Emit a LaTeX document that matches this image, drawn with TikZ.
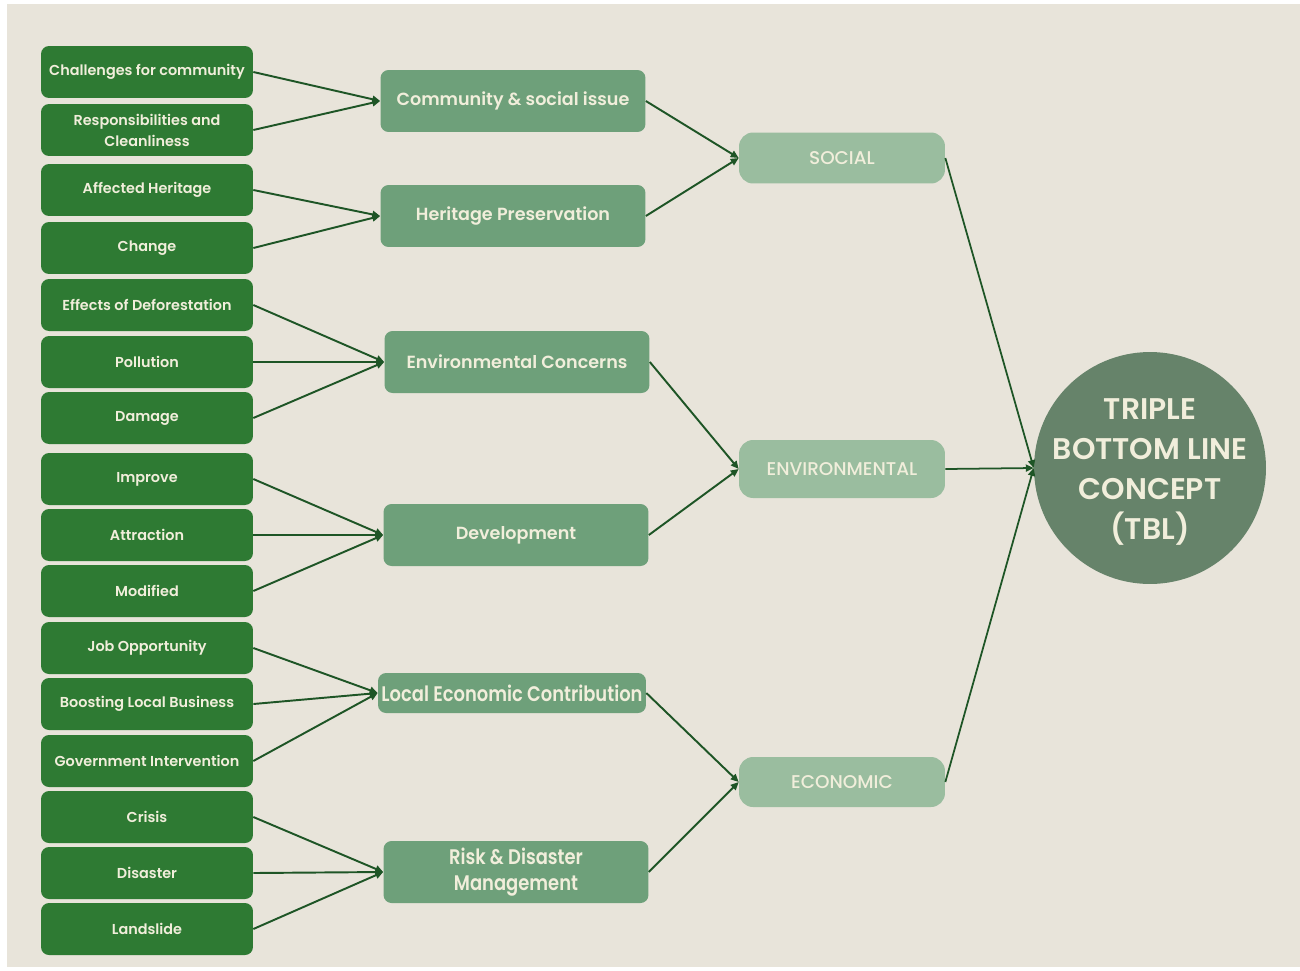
\documentclass[tikz,border=0pt]{standalone}
\usepackage{fontspec}
\usepackage{xcolor}
\usepackage{tikz}
\usetikzlibrary{arrows.meta,positioning}
\setmainfont{Poppins}
\newfontfamily\semifont{Poppins SemiBold}
\newfontfamily\narrowfont{Poppins SemiBold}[FakeStretch=0.85]
\newfontfamily\medfont{Poppins Medium}
\definecolor{bgbeige}{HTML}{E8E4DA}
\definecolor{leafgreen}{HTML}{2E7A33}
\definecolor{midgreen}{HTML}{6EA07A}
\definecolor{pillargreen}{HTML}{9ABD9F}
\definecolor{coregreen}{HTML}{66836A}
\definecolor{linkgreen}{HTML}{1E5526}
\definecolor{cream}{HTML}{F1EEDB}

\begin{document}
\begin{tikzpicture}[x=0.02cm,y=-0.02cm,
    leaf/.style={fill=leafgreen,rounded corners=0.16cm,minimum width=4.24cm,minimum height=1.04cm,
        inner sep=0pt,align=center,text=cream,font=\semifont\fontsize{8.2}{12}\selectfont},
    theme/.style={fill=midgreen,rounded corners=0.16cm,minimum width=5.3cm,minimum height=1.24cm,
        inner sep=0pt,align=center,text=cream,font=\semifont\fontsize{10}{14.7}\selectfont},
    pillar/.style={fill=pillargreen,rounded corners=0.28cm,minimum width=4.12cm,minimum height=1.02cm,
        inner sep=0pt,text=cream,font=\medfont\fontsize{10.5}{12}\selectfont},
    core/.style={circle,fill=coregreen,minimum size=4.64cm,inner sep=0pt},
    coretext/.style={inner sep=0pt,align=center,text=cream,font=\semifont\fontsize{17}{22.7}\selectfont},
    link/.style={draw=linkgreen,line width=1.1pt,-{Triangle[length=4.5pt,width=4pt]}}]
    % Background
    \fill[white] (0,0) rectangle (1300,970);
    \fill[bgbeige] (7,4) rectangle (1300,967);
    \useasboundingbox (0,0) rectangle (1300,970);

    % Left column
    \foreach \n/\y/\t in {l1/72/Challenges for community, l2/130/{Responsibilities and\\Cleanliness},
        l3/190/Affected Heritage, l4/248/Change, l5/305/Effects of Deforestation, l6/362/Pollution,
        l7/418/Damage, l8/479/Improve, l9/535/Attraction, l10/591/Modified, l11/648/Job Opportunity,
        l12/704/Boosting Local Business, l13/761/Government Intervention, l14/817/Crisis,
        l15/873/Disaster, l16/929/Landslide} {
        \node[leaf] (\n) at (147,\y) {\t};
    }

    % Middle column
    \node[theme] (m1) at (513,101) {Community \& social issue};
    \node[theme] (m2) at (513,216) {Heritage Preservation};
    \node[theme] (m3) at (517,362) {Environmental Concerns};
    \node[theme] (m4) at (516,535) {Development};
    \node[theme,minimum width=5.36cm,minimum height=0.8cm,font=\narrowfont\fontsize{12}{14}\selectfont]
        (m5) at (512,693) {Local Economic Contribution};
    \node[theme,font=\narrowfont\fontsize{12}{14.7}\selectfont] (m6) at (516,872) {Risk \& Disaster\\Management};

    % Pillars
    \node[pillar] (social) at (842,158) {SOCIAL};
    \node[pillar,minimum height=1.16cm] (environ) at (842,469) {ENVIRONMENTAL};
    \node[pillar,minimum height=1.0cm] (econ) at (842,782) {ECONOMIC};

    % Core concept
    \node[core] (tbl) at (1150,468) {};
    \node[coretext] (tbllabel) at (1150,472) {TRIPLE\\BOTTOM LINE\\CONCEPT\\(TBL)};

    % Links
    \foreach \a/\b in {l1/m1,l2/m1,l3/m2,l4/m2,l5/m3,l6/m3,l7/m3,l8/m4,l9/m4,l10/m4,
        l11/m5,l12/m5,l13/m5,l14/m6,l15/m6,l16/m6} {
        \draw[link] (\a.east) -- (\b.west);
    }
    \foreach \a/\b in {m1/social,m2/social,m3/environ,m4/environ,m5/econ,m6/econ} {
        \draw[link] (\a.east) -- (\b.west);
    }
    \foreach \a in {social,environ,econ} {
        \draw[link,line width=1pt] (\a.east) -- (tbl.west);
    }
\end{tikzpicture}
\end{document}
